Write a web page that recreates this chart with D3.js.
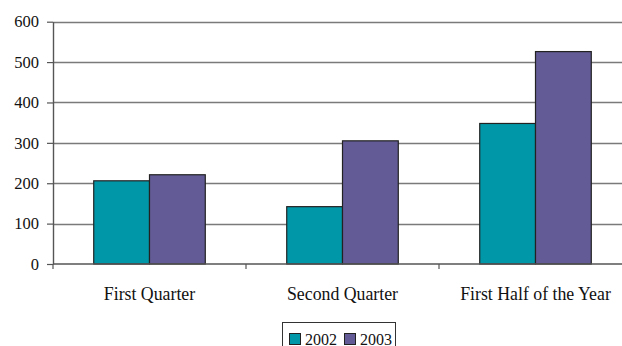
<!DOCTYPE html>
<html>
<head>
<meta charset="utf-8">
<script src="https://cdn.jsdelivr.net/npm/d3@7"></script>
<style>
  html, body { margin: 0; padding: 0; background: #fff; }
  svg { display: block; }
  text { font-family: "Liberation Serif", "Times New Roman", serif; fill: #111; }
</style>
</head>
<body>
<svg id="chart" width="622" height="346"></svg>
<script>
// Sales by period, two years side by side
const categories = ["First Quarter", "Second Quarter", "First Half of the Year"];
const seriesNames = ["2002", "2003"];
const values2002 = [206, 142, 348];
const values2003 = [221, 305, 526];
const yTicks = [0, 100, 200, 300, 400, 500, 600];
const colors = ["#0098A8", "#625B95"];

const series = [values2002, values2003];

const svg = d3.select("#chart");
const plotLeft = 53, plotRight = 632, plotTop = 21.7, plotBottom = 264;
const serif = "'Liberation Serif', 'Times New Roman', serif";

const x0 = d3.scaleBand().domain(categories).range([plotLeft, plotRight]).paddingInner(0.422).paddingOuter(0.211);
const x1 = d3.scaleBand().domain(seriesNames).range([0, x0.bandwidth()]).padding(0);
const y = d3.scaleLinear().domain([0, 600]).range([plotBottom, plotTop]);

// horizontal gridlines
svg.append("g").selectAll("line").data(yTicks.filter(t => t > 0)).join("line")
  .attr("x1", plotLeft).attr("x2", plotRight)
  .attr("y1", d => Math.round(y(d)) + 0.5).attr("y2", d => Math.round(y(d)) + 0.5)
  .attr("stroke", "#7a7a7a").attr("stroke-width", 1.4);

// bars
const groups = svg.append("g").selectAll("g").data(categories).join("g")
  .attr("transform", c => `translate(${x0(c)},0)`);
groups.selectAll("rect")
  .data((c, i) => seriesNames.map((s, j) => ({ s, v: series[j][i], j })))
  .join("rect")
  .attr("x", d => x1(d.s))
  .attr("y", d => y(d.v))
  .attr("width", x1.bandwidth())
  .attr("height", d => plotBottom - y(d.v))
  .attr("fill", d => colors[d.j])
  .attr("stroke", "#222")
  .attr("stroke-width", 1.2);

// y axis
const yAxis = d3.axisLeft(y).tickValues(yTicks).tickSize(6).tickPadding(8).tickSizeOuter(0);
const gy = svg.append("g").attr("transform", `translate(${plotLeft},0)`).call(yAxis)
  .attr("font-family", serif).attr("font-size", 16.5);
gy.select(".domain").attr("stroke", "#555").attr("stroke-width", 1.4);
gy.selectAll(".tick line").attr("stroke", "#555").attr("stroke-width", 1.2);
gy.selectAll(".tick text").style("font-size", "16.5px").style("font-family", serif).attr("fill", "#111");

// x axis: baseline, boundary ticks and category labels
const step = x0.step();
const boundaries = d3.range(categories.length + 1).map(i => plotLeft + i * step);
svg.append("line").attr("x1", plotLeft).attr("x2", plotRight)
  .attr("y1", plotBottom).attr("y2", plotBottom).attr("stroke", "#555").attr("stroke-width", 1.4);
svg.append("g").selectAll("line").data(boundaries).join("line")
  .attr("x1", d => d).attr("x2", d => d)
  .attr("y1", plotBottom).attr("y2", plotBottom + 5)
  .attr("stroke", "#555").attr("stroke-width", 1.2);
svg.append("g").selectAll("text").data(categories).join("text")
  .attr("x", c => x0(c) + x0.bandwidth() / 2)
  .attr("y", 299.5)
  .attr("text-anchor", "middle")
  .style("font-family", serif)
  .style("font-size", "17.8px")
  .text(c => c);

// legend
const lg = svg.append("g");
lg.append("rect").attr("x", 282.5).attr("y", 322.5).attr("width", 113).attr("height", 30)
  .attr("fill", "#fff").attr("stroke", "#333").attr("stroke-width", 1);
const items = [{ name: seriesNames[0], x: 289 }, { name: seriesNames[1], x: 344 }];
items.forEach((it, j) => {
  lg.append("rect").attr("x", it.x + 0.5).attr("y", 333.5).attr("width", 11).attr("height", 11)
    .attr("fill", colors[j]).attr("stroke", "#222").attr("stroke-width", 1);
  lg.append("text").attr("x", it.x + 16).attr("y", 344.5)
    .style("font-family", serif)
    .style("font-size", "16px").text(it.name);
});
</script>
</body>
</html>
